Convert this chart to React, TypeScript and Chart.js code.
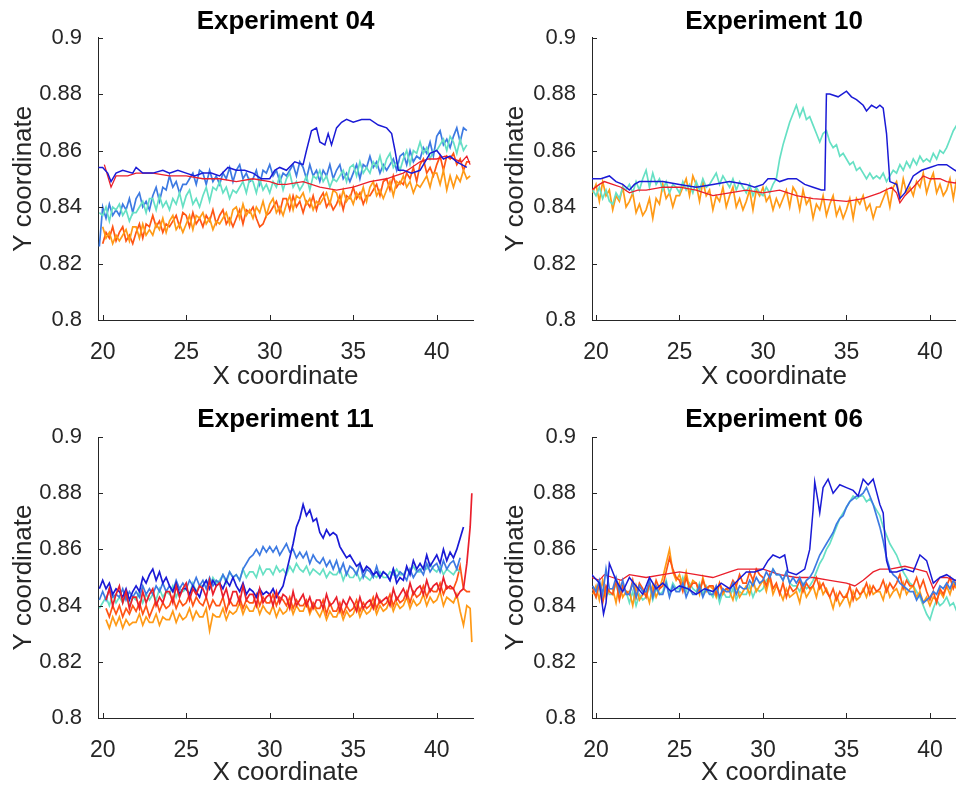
import React, { useEffect, useRef } from 'react';
import { Chart, registerables } from 'chart.js';
Chart.register(...registerables);

// ---------- axes ----------
const X_TICKS = [20, 25, 30, 35, 40];
const X_TICK_LABELS = ['20', '25', '30', '35', '40'];
const Y_TICKS = [0.8, 0.82, 0.84, 0.86, 0.88, 0.9];
const Y_TICK_LABELS = ['0.8', '0.82', '0.84', '0.86', '0.88', '0.9'];
const TITLES = ['Experiment 04', 'Experiment 10', 'Experiment 11', 'Experiment 06'];

// shared sampling positions for the noisy traces (19.8, 20.0 ... 41.8, 42.0, 42.1)
const X_GRID = [19.8,
  20, 20.2, 20.4, 20.6, 20.8, 21, 21.2, 21.4, 21.6, 21.8,
  22, 22.2, 22.4, 22.6, 22.8, 23, 23.2, 23.4, 23.6, 23.8,
  24, 24.2, 24.4, 24.6, 24.8, 25, 25.2, 25.4, 25.6, 25.8,
  26, 26.2, 26.4, 26.6, 26.8, 27, 27.2, 27.4, 27.6, 27.8,
  28, 28.2, 28.4, 28.6, 28.8, 29, 29.2, 29.4, 29.6, 29.8,
  30, 30.2, 30.4, 30.6, 30.8, 31, 31.2, 31.4, 31.6, 31.8,
  32, 32.2, 32.4, 32.6, 32.8, 33, 33.2, 33.4, 33.6, 33.8,
  34, 34.2, 34.4, 34.6, 34.8, 35, 35.2, 35.4, 35.6, 35.8,
  36, 36.2, 36.4, 36.6, 36.8, 37, 37.2, 37.4, 37.6, 37.8,
  38, 38.2, 38.4, 38.6, 38.8, 39, 39.2, 39.4, 39.6, 39.8,
  40, 40.2, 40.4, 40.6, 40.8, 41, 41.2, 41.4, 41.6, 41.8,
  42, 42.1];

// ---------- Experiment 04 ----------
const E04_DBLUE_X = [19.75, 20.0, 20.3, 20.5, 20.8, 21.2, 21.8, 22.0, 22.4, 23.0, 23.6, 24.0, 24.5, 25.0, 25.5, 26.0, 26.5, 27.0, 27.5, 28.0, 28.5, 29.0, 29.5, 30.0, 30.3, 30.6, 31.0, 31.5, 32.0, 32.2, 32.5, 32.8, 33.0, 33.3, 33.5, 33.7, 34.0, 34.3, 34.6, 35.0, 35.5, 36.0, 36.5, 37.0, 37.3, 37.5, 37.7, 38.0, 38.5, 39.0, 39.3, 39.6, 40.0, 40.4, 40.8, 41.2, 41.5, 41.8];
const E04_DBLUE_Y = [.854, .854, .852, .849, .852, .853, .852, .854, .852, .852, .853, .852, .853, .852, .851, .852, .852, .851, .854, .853, .853, .852, .850, .850, .853, .854, .853, .856, .855, .860, .867, .868, .863, .862, .866, .862, .868, .870, .871, .870, .871, .871, .869, .868, .866, .860, .853, .853, .852, .853, .856, .859, .860, .857, .858, .856, .855, .854];
const E04_RED_X = [20.1, 20.3, 20.5, 20.8, 21.5, 22.0, 23.0, 24.0, 25.0, 26.0, 27.0, 28.0, 29.0, 30.0, 30.5, 31.0, 32.0, 33.0, 34.0, 35.0, 35.5, 36.0, 37.0, 37.5, 38.0, 38.5, 39.0, 39.5, 40.0, 40.5, 41.0, 41.5, 41.8, 42.0];
const E04_RED_Y = [.855, .851, .847, .851, .851, .852, .852, .851, .851, .850, .850, .849, .850, .849, .848, .848, .849, .847, .846, .847, .848, .849, .850, .851, .852, .854, .856, .857, .857, .858, .857, .856, .858, .855];
const E04_MBLUE = [.826,
  .840, .836, .841, .837, .839, .837, .841, .839, .843, .838,
  .843, .845, .840, .842, .839, .844, .847, .842, .847, .846,
  .851, .847, .849, .845, .848, .848, .850, .852, .848, .853,
  .852, .848, .853, .849, .851, .848, .852, .850, .854, .849,
  .853, .855, .850, .852, .849, .850, .853, .848, .853, .852,
  .855, .851, .853, .849, .852, .851, .853, .855, .851, .856,
  .854, .850, .855, .851, .853, .849, .853, .851, .855, .850,
  .853, .855, .850, .852, .849, .852, .855, .850, .855, .854,
  .858, .854, .856, .852, .855, .853, .855, .857, .853, .858,
  .859, .855, .860, .856, .858, .857, .861, .859, .863, .858,
  .865, .867, .862, .864, .861, .865, .868, .863, .868, .867,
  null, null];
const E04_TURQ = [.838,
  .837, .840, .835, .840, .839, .841, .837, .839, .835, .838,
  .838, .840, .842, .838, .843, .843, .839, .844, .840, .842,
  .839, .843, .841, .845, .840, .844, .846, .841, .843, .840,
  .844, .847, .842, .847, .846, .849, .845, .847, .843, .846,
  .845, .847, .849, .845, .850, .849, .845, .850, .846, .848,
  .845, .849, .847, .851, .846, .850, .852, .847, .849, .846,
  .848, .851, .846, .851, .850, .853, .849, .851, .847, .850,
  .849, .851, .853, .849, .854, .855, .851, .856, .852, .854,
  .852, .856, .854, .858, .853, .857, .859, .854, .856, .853,
  .857, .860, .855, .860, .859, .863, .859, .861, .857, .860,
  .860, .862, .864, .860, .865, .863, .859, .864, .860, .862,
  null, null];
const E04_ORED = [null,
  .827, .831, .829, .833, .828, .831, .833, .828, .830, .827,
  .831, .834, .829, .834, .833, .837, .833, .835, .831, .834,
  .833, .835, .837, .833, .838, .837, .833, .838, .834, .836,
  .833, .837, .835, .839, .834, .837, .839, .834, .836, .833,
  .836, .839, .834, .839, .838, .840, .836, .833, .834, .837,
  .838, .840, .842, .838, .843, .843, .839, .844, .840, .842,
  .838, .842, .840, .844, .839, .843, .845, .840, .842, .839,
  .841, .844, .839, .844, .843, .847, .843, .845, .841, .844,
  .844, .846, .848, .844, .849, .850, .846, .851, .847, .849,
  .848, .852, .850, .854, .849, .855, .857, .852, .854, .851,
  .855, .858, .853, .858, .857, .859, .855, .857, .853, .856,
  .856, null];
const E04_ORANGE = [null,
  .833, .829, .831, .827, .830, .828, .830, .832, .828, .833,
  .833, .829, .834, .830, .832, .830, .834, .832, .836, .831,
  .835, .837, .832, .834, .831, .834, .837, .832, .837, .836,
  .838, .834, .836, .832, .835, .834, .836, .838, .834, .839,
  .840, .836, .841, .837, .839, .836, .840, .838, .842, .837,
  .841, .843, .838, .840, .837, .841, .844, .839, .844, .843,
  .845, .841, .843, .839, .842, .841, .843, .845, .841, .846,
  .845, .841, .846, .842, .844, .841, .845, .843, .847, .842,
  .847, .849, .844, .846, .843, .846, .849, .844, .849, .848,
  .851, .847, .849, .845, .848, .847, .849, .851, .847, .852,
  .852, .848, .853, .846, .851, .847, .851, .849, .853, .850,
  .851, null];

// ---------- Experiment 10 ----------
const E10_DBLUE_X = [19.75, 20.3, 20.8, 21.2, 21.6, 22.0, 22.3, 22.6, 23.0, 24.0, 25.0, 26.0, 27.0, 28.0, 29.0, 29.5, 30.0, 30.3, 30.7, 31.0, 31.5, 32.0, 32.5, 33.0, 33.5, 33.7, 33.8, 34.0, 34.5, 35.0, 35.3, 35.6, 36.0, 36.2, 36.5, 36.8, 37.0, 37.2, 37.4, 37.6, 38.0, 38.2, 38.5, 39.0, 39.5, 40.0, 40.5, 41.0, 41.5, 41.8];
const E10_DBLUE_Y = [.850, .850, .851, .849, .848, .846, .848, .849, .849, .849, .848, .847, .848, .849, .848, .847, .848, .850, .850, .849, .850, .850, .848, .847, .846, .846, .880, .880, .879, .881, .879, .878, .876, .874, .876, .875, .876, .875, .866, .849, .848, .843, .845, .851, .853, .854, .855, .855, .853, .852];
const E10_RED_X = [19.75, 20.2, 20.5, 21.0, 21.5, 22.0, 22.5, 23.0, 24.0, 25.0, 26.0, 27.0, 28.0, 29.0, 30.0, 31.0, 32.0, 33.0, 34.0, 35.0, 36.0, 37.0, 37.7, 38.0, 38.2, 38.5, 39.0, 39.6, 40.0, 40.6, 41.0, 41.5, 41.8];
const E10_RED_Y = [.846, .848, .849, .848, .847, .845, .846, .846, .847, .847, .846, .844, .845, .846, .845, .846, .844, .843, .8425, .842, .843, .845, .847, .845, .8415, .844, .847, .851, .850, .850, .849, .8485, .849];
const E10_TURQ = [.846,
  .844, .847, .843, .846, .842, .841, .845, .843, .847, .846,
  .848, .845, .849, .846, .850, .853, .847, .852, .848, .850,
  .846, .849, .845, .848, .847, .845, .849, .846, .848, .845,
  .849, .846, .850, .847, .848, .850, .852, .848, .851, .849,
  .847, .850, .846, .849, .847, .845, .848, .844, .847, .845,
  .844, .847, .845, .848, .850, .857, .862, .866, .870, .873,
  .876, .872, .875, .871, .872, .869, .866, .863, .866, .867,
  .863, .861, .862, .858, .859, .857, .855, .856, .853, .854,
  .852, .850, .852, .850, .851, .850, .852, .849, .851, .853,
  .852, .855, .853, .856, .854, .857, .855, .858, .856, .857,
  .856, .859, .857, .860, .859, .861, .864, .867, .869, .870,
  .870, null];
const E10_ORANGE = [.845,
  .848, .842, .849, .844, .846, .839, .844, .842, .847, .840,
  .842, .845, .838, .841, .837, .839, .843, .836, .843, .841,
  .848, .843, .845, .840, .844, .844, .847, .850, .844, .851,
  .848, .842, .849, .844, .846, .839, .844, .842, .847, .840,
  .844, .847, .840, .843, .839, .842, .846, .839, .846, .844,
  .847, .842, .844, .839, .843, .840, .843, .846, .840, .847,
  .845, .839, .846, .841, .843, .836, .841, .839, .844, .837,
  .841, .844, .837, .840, .836, .839, .843, .836, .843, .841,
  .844, .839, .841, .836, .840, .840, .843, .846, .840, .847,
  .849, .843, .850, .845, .847, .844, .849, .847, .852, .845,
  .849, .852, .845, .848, .844, .846, .850, .843, .850, .848,
  .847, null];

// ---------- Experiment 11 ----------
const E11_DBLUE = [.846,
  .849, .846, .848, .844, .846, .845, .843, .846, .842, .845,
  .847, .845, .850, .848, .851, .853, .849, .852, .848, .850,
  .847, .845, .848, .844, .846, .846, .844, .847, .845, .843,
  .847, .849, .846, .849, .847, .848, .846, .849, .847, .850,
  .847, .845, .848, .844, .846, .845, .843, .846, .844, .845,
  .844, .846, .843, .845, .847, .852, .857, .862, .868, .871,
  .876, .872, .874, .870, .871, .866, .864, .867, .865, .866,
  .865, .861, .859, .857, .858, .856, .854, .855, .852, .854,
  .853, .851, .852, .850, .852, .851, .849, .853, .848, .850,
  .849, .854, .851, .856, .853, .855, .853, .858, .854, .856,
  .858, .855, .860, .856, .859, .857, .860, .864, .868, null,
  null, null];
const E11_MBLUE = [.842,
  .845, .842, .846, .843, .844, .843, .846, .842, .845, .843,
  .845, .843, .847, .844, .846, .844, .847, .845, .848, .845,
  .847, .845, .849, .846, .848, .846, .849, .847, .850, .847,
  .849, .846, .850, .847, .849, .848, .851, .849, .852, .850,
  .851, .849, .853, .855, .857, .858, .860, .858, .861, .859,
  .861, .859, .861, .858, .860, .862, .859, .860, .857, .859,
  .857, .859, .855, .858, .856, .855, .857, .854, .856, .853,
  .856, .852, .855, .851, .854, .853, .851, .855, .850, .853,
  .852, .850, .854, .850, .852, .851, .849, .853, .850, .852,
  .851, .849, .853, .850, .852, .853, .851, .855, .852, .854,
  .855, .852, .856, .853, .855, .856, .853, .857, null, null,
  null, null];
const E11_TURQ = [.839,
  .841, .843, .840, .844, .841, .843, .841, .844, .840, .843,
  .842, .845, .841, .844, .842, .844, .842, .846, .843, .845,
  .844, .847, .843, .846, .845, .846, .844, .848, .845, .847,
  .847, .849, .846, .850, .848, .849, .851, .848, .852, .850,
  .851, .849, .853, .850, .852, .852, .850, .854, .851, .853,
  .853, .851, .854, .852, .853, .851, .854, .852, .855, .853,
  .852, .854, .851, .853, .852, .851, .853, .850, .852, .851,
  .851, .853, .849, .852, .850, .850, .852, .849, .851, .850,
  .849, .851, .850, .852, .850, .850, .852, .851, .853, .851,
  .851, .853, .852, .854, .852, .852, .854, .853, .855, .853,
  .852, .854, .851, .853, .852, .851, .853, .852, null, null,
  null, null];
const E11_RED = [null,
  null, .842, .846, .840, .844, .847, .841, .845, .839, .843,
  .843, .839, .845, .841, .844, .846, .840, .843, .841, .845,
  .845, .841, .847, .843, .846, .848, .842, .846, .844, .847,
  .846, .843, .849, .844, .847, .848, .843, .846, .841, .845,
  .845, .841, .847, .842, .844, .844, .840, .846, .841, .843,
  .844, .840, .845, .841, .844, .843, .839, .845, .840, .842,
  .844, .840, .843, .839, .842, .842, .839, .844, .840, .841,
  .843, .838, .842, .840, .843, .841, .838, .843, .839, .841,
  .842, .839, .844, .841, .842, .843, .840, .846, .842, .844,
  .846, .843, .848, .844, .846, .847, .844, .849, .845, .847,
  .848, .845, .850, .846, .847, .846, .843, .845, .846, .855,
  .868, .880];
const E11_ORED = [null,
  null, .839, .836, .840, .837, .840, .836, .839, .837, .840,
  .838, .841, .837, .840, .836, .839, .842, .838, .841, .839,
  .840, .843, .839, .842, .840, .841, .844, .840, .843, .841,
  .840, .843, .839, .842, .840, .840, .843, .838, .842, .840,
  .840, .843, .839, .842, .841, .841, .844, .840, .843, .841,
  .841, .844, .840, .843, .842, .840, .843, .839, .842, .840,
  .840, .842, .838, .841, .839, .839, .842, .837, .841, .838,
  .838, .841, .837, .840, .838, .839, .842, .838, .841, .839,
  .840, .843, .839, .842, .840, .841, .844, .840, .843, .841,
  .842, .845, .841, .845, .843, .844, .847, .843, .846, .845,
  .845, .848, .844, .847, .846, .846, .849, .854, .846, .845,
  .845, null];
const E11_ORANGE = [null,
  null, .835, .832, .836, .833, .836, .832, .835, .833, .834,
  .834, .837, .833, .836, .834, .834, .837, .833, .836, .835,
  .835, .838, .834, .837, .835, .836, .839, .835, .838, .836,
  .836, .839, .831, .837, .836, .836, .839, .835, .838, .837,
  .838, .841, .837, .840, .838, .838, .841, .837, .840, .838,
  .837, .840, .836, .839, .837, .838, .841, .837, .840, .838,
  .838, .841, .837, .840, .838, .836, .839, .835, .838, .836,
  .836, .839, .835, .838, .836, .837, .840, .836, .839, .837,
  .838, .841, .837, .840, .838, .839, .842, .838, .841, .839,
  .840, .843, .839, .842, .840, .841, .844, .840, .843, .841,
  .842, .845, .840, .843, .842, .841, .844, .838, .833, .840,
  .839, .827];

// ---------- Experiment 06 ----------
const E06_DBLUE_X = [19.75, 20.2, 20.45, 20.6, 20.8, 21.2, 21.6, 22.0, 22.4, 22.8, 23.2, 23.6, 24.0, 24.5, 25.0, 25.5, 26.0, 26.5, 27.0, 27.5, 28.0, 28.5, 29.0, 29.5, 30.0, 30.3, 30.6, 31.0, 31.3, 31.5, 32.0, 32.5, 32.8, 33.0, 33.1, 33.3, 33.4, 33.6, 33.9, 34.2, 34.6, 35.0, 35.4, 35.7, 36.0, 36.3, 36.6, 37.0, 37.2, 37.4, 37.6, 38.0, 38.5, 39.0, 39.4, 39.8, 40.2, 40.6, 41.0, 41.5, 41.8];
const E06_DBLUE_Y = [.851, .848, .837, .841, .855, .849, .845, .850, .847, .844, .850, .846, .848, .845, .847, .846, .844, .846, .845, .848, .846, .849, .852, .852, .853, .856, .858, .857, .858, .852, .851, .853, .860, .874, .884, .877, .873, .882, .885, .880, .883, .882, .881, .879, .885, .883, .885, .876, .873, .856, .852, .852, .853, .852, .858, .856, .848, .850, .851, .849, .849];
const E06_RED_X = [19.75, 20.2, 20.5, 21.0, 21.5, 22.0, 23.0, 24.0, 25.0, 26.0, 27.0, 28.0, 28.5, 29.0, 30.0, 30.5, 31.0, 32.0, 33.0, 34.0, 35.0, 35.5, 36.0, 36.6, 37.0, 37.6, 38.5, 39.2, 39.8, 40.2, 40.6, 41.0, 41.5, 41.8];
const E06_RED_Y = [.850, .849, .851, .850, .849, .851, .850, .851, .852, .851, .850, .852, .853, .853, .853, .852, .851, .850, .850, .849, .848, .847, .849, .852, .853, .853, .854, .853, .852, .846, .850, .850, .849, .849];
const E06_MBLUE = [.847,
  .845, .849, .844, .853, .846, .846, .850, .845, .849, .844,
  .844, .848, .843, .847, .845, .845, .849, .843, .847, .844,
  .844, .848, .843, .847, .845, .845, .848, .843, .846, .844,
  .844, .847, .843, .846, .844, .844, .847, .843, .846, .845,
  .845, .848, .844, .847, .846, .846, .849, .847, .850, .848,
  .849, .852, .850, .853, .851, .851, .849, .852, .848, .850,
  .848, .850, .847, .849, .850, .852, .855, .858, .860, .862,
  .864, .866, .869, .871, .872, .875, .877, .878, .879, .879,
  .880, .882, .879, .876, .872, .868, .863, .857, .853, .851,
  .850, .848, .847, .846, .845, .845, .842, .844, .841, .842,
  .843, .845, .844, .847, .846, .848, .846, .849, .847, null,
  null, null];
const E06_TURQ = [.846,
  .843, .847, .842, .846, .844, .844, .848, .843, .847, .845,
  .841, .845, .840, .844, .842, .843, .847, .842, .846, .844,
  .845, .849, .844, .848, .846, .846, .850, .845, .848, .846,
  .845, .848, .844, .847, .845, .843, .846, .841, .845, .843,
  .843, .846, .842, .845, .844, .844, .847, .843, .846, .845,
  .846, .849, .850, .853, .851, .851, .849, .852, .848, .847,
  .847, .845, .848, .846, .847, .849, .852, .855, .857, .860,
  .862, .865, .868, .871, .873, .875, .877, .879, .878, .879,
  .879, .877, .878, .876, .874, .872, .868, .865, .862, .860,
  .858, .855, .852, .850, .848, .847, .845, .843, .840, .837,
  .835, .839, .842, .840, .841, .843, .840, .841, .838, null,
  null, null];
const E06_ORED = [.846,
  .843, .848, .841, .847, .845, .844, .849, .842, .847, .845,
  .844, .849, .843, .848, .846, .843, .848, .844, .849, .846,
  .847, .852, .857, .853, .850, .849, .845, .850, .846, .848,
  .848, .845, .849, .846, .847, .847, .844, .848, .845, .846,
  .846, .849, .847, .851, .848, .848, .852, .849, .853, .851,
  .850, .847, .851, .846, .848, .844, .848, .843, .847, .845,
  .846, .849, .845, .848, .846, .847, .850, .846, .848, .845,
  .843, .846, .842, .845, .843, .843, .847, .842, .846, .844,
  .845, .848, .844, .847, .845, .846, .849, .845, .848, .846,
  .848, .851, .846, .849, .847, .847, .850, .846, .849, .845,
  .842, .845, .841, .846, .844, .847, .850, .846, .849, null,
  null, null];
const E06_ORANGE = [.844,
  .847, .842, .849, .843, .846, .846, .841, .848, .843, .845,
  .845, .840, .847, .842, .844, .845, .841, .847, .843, .846,
  .850, .855, .860, .852, .849, .851, .847, .852, .846, .849,
  .848, .844, .850, .845, .847, .846, .843, .848, .844, .846,
  .845, .842, .847, .843, .845, .847, .844, .849, .845, .847,
  .849, .845, .850, .844, .847, .845, .842, .846, .843, .844,
  .845, .841, .847, .843, .845, .847, .843, .848, .844, .846,
  .843, .839, .844, .840, .842, .844, .840, .845, .842, .843,
  .846, .843, .847, .844, .845, .845, .842, .847, .843, .845,
  .846, .843, .848, .844, .846, .847, .843, .845, .841, .843,
  .840, .843, .842, .845, .843, .847, .844, .848, .846, null,
  null, null];

// ---------- styling ----------
const C_DBLUE = '#1a1ad6';
const C_MBLUE = '#3d7ae2';
const C_TURQ = '#66e0c4';
const C_RED = '#ea1f2b';
const C_ORED = '#ff5514';
const C_ORANGE = '#ff9a16';
const AXIS_COLOR = '#262626';
const FONT = '"Liberation Sans", Arial, Helvetica, sans-serif';
const NOISY_W = 1.7;

const gridPts = (ys: (number | null)[]) =>
  X_GRID.map((x, i) => ({ x, y: ys[i] })).filter((p) => p.y !== null && p.y !== undefined);
const pairPts = (xs: number[], ys: number[]) => xs.map((x, i) => ({ x, y: ys[i] }));

const ds = (data: any[], color: string, width = NOISY_W) => ({
  data,
  borderColor: color,
  borderWidth: width,
  pointRadius: 0,
  tension: 0,
  fill: false,
});

const PANELS = [
  {
    title: TITLES[0], left: 0, top: 0, w: 478, h: 395,
    xMin: 19.72, xMax: 42.17, yAxisW: 98, xAxisH: 75, padRight: 5,
    titlePad: { top: 6, bottom: 0.3 }, yTitlePad: 8, xTitlePadBottom: 2.4,
    datasets: () => [
      ds(pairPts(E04_DBLUE_X, E04_DBLUE_Y), C_DBLUE, 1.5),
      ds(pairPts(E04_RED_X, E04_RED_Y), C_RED, 1.3),
      ds(gridPts(E04_ORANGE), C_ORANGE),
      ds(gridPts(E04_ORED), C_ORED),
      ds(gridPts(E04_TURQ), C_TURQ),
      ds(gridPts(E04_MBLUE), C_MBLUE),
    ],
  },
  {
    title: TITLES[1], left: 478, top: 0, w: 478, h: 395,
    xMin: 19.76, xMax: 41.56, yAxisW: 114, xAxisH: 75, padRight: 0,
    titlePad: { top: 6, bottom: 0.3 }, yTitlePad: 22, xTitlePadBottom: 2.4,
    datasets: () => [
      ds(pairPts(E10_DBLUE_X, E10_DBLUE_Y), C_DBLUE, 1.5),
      ds(pairPts(E10_RED_X, E10_RED_Y), C_RED, 1.3),
      ds(gridPts(E10_TURQ), C_TURQ),
      ds(gridPts(E10_ORANGE), C_ORANGE),
    ],
  },
  {
    title: TITLES[2], left: 0, top: 395, w: 478, h: 394,
    xMin: 19.72, xMax: 42.17, yAxisW: 98, xAxisH: 71, padRight: 5,
    titlePad: { top: 9, bottom: 1.8 }, yTitlePad: 8, xTitlePadBottom: 0.5,
    datasets: () => [
      ds(gridPts(E11_RED), C_RED),
      ds(gridPts(E11_DBLUE), C_DBLUE),
      ds(gridPts(E11_MBLUE), C_MBLUE),
      ds(gridPts(E11_TURQ), C_TURQ),
      ds(gridPts(E11_ORED), C_ORED),
      ds(gridPts(E11_ORANGE), C_ORANGE),
    ],
  },
  {
    title: TITLES[3], left: 478, top: 395, w: 478, h: 394,
    xMin: 19.76, xMax: 41.56, yAxisW: 114, xAxisH: 71, padRight: 0,
    titlePad: { top: 9, bottom: 1.8 }, yTitlePad: 22, xTitlePadBottom: 0.5,
    datasets: () => [
      ds(pairPts(E06_DBLUE_X, E06_DBLUE_Y), C_DBLUE, 1.5),
      ds(gridPts(E06_MBLUE), C_MBLUE),
      ds(pairPts(E06_RED_X, E06_RED_Y), C_RED, 1.3),
      ds(gridPts(E06_ORED), C_ORED),
      ds(gridPts(E06_ORANGE), C_ORANGE),
      ds(gridPts(E06_TURQ), C_TURQ),
    ],
  },
];

const inwardTicks = {
  id: 'inwardTicks',
  afterDraw(chart: any) {
    const { ctx, chartArea, scales } = chart;
    ctx.save();
    ctx.strokeStyle = AXIS_COLOR;
    ctx.lineWidth = 1;
    ctx.beginPath();
    X_TICKS.forEach((v) => {
      const px = Math.round(scales.x.getPixelForValue(v)) + 0.5;
      ctx.moveTo(px, chartArea.bottom);
      ctx.lineTo(px, chartArea.bottom - 5);
    });
    Y_TICKS.forEach((v) => {
      const py = Math.round(scales.y.getPixelForValue(v)) + 0.5;
      ctx.moveTo(chartArea.left, py);
      ctx.lineTo(chartArea.left + 5, py);
    });
    ctx.stroke();
    ctx.restore();
  },
};

function Panel({ cfg }: { cfg: any }) {
  const ref = useRef<HTMLCanvasElement>(null);
  useEffect(() => {
    const chart = new Chart(ref.current as HTMLCanvasElement, {
      type: 'line',
      data: { datasets: cfg.datasets() },
      options: {
        animation: false,
        responsive: false,
        devicePixelRatio: 1,
        events: [],
        layout: { padding: { left: 0, right: cfg.padRight, top: 0, bottom: 0 } },
        plugins: {
          legend: { display: false },
          tooltip: { enabled: false },
          title: {
            display: true,
            text: cfg.title,
            color: '#000000',
            fullSize: false,
            font: { family: FONT, size: 26, weight: 'bold', lineHeight: 1.2 },
            padding: cfg.titlePad,
          },
        },
        scales: {
          x: {
            type: 'linear',
            min: cfg.xMin,
            max: cfg.xMax,
            afterBuildTicks: (s: any) => { s.ticks = X_TICKS.map((v) => ({ value: v })); },
            afterFit: (s: any) => { s.height = cfg.xAxisH; },
            grid: { display: false },
            border: { display: true, color: AXIS_COLOR, width: 1 },
            ticks: {
              color: AXIS_COLOR,
              font: { family: FONT, size: 23, lineHeight: 1.2 },
              padding: 10.5,
              maxRotation: 0,
              autoSkip: false,
              callback: (_v: any, i: number) => X_TICK_LABELS[i],
            },
            title: {
              display: true,
              text: 'X coordinate',
              color: AXIS_COLOR,
              font: { family: FONT, size: 26, lineHeight: 1.2 },
              padding: { top: 0, bottom: cfg.xTitlePadBottom },
            },
          },
          y: {
            type: 'linear',
            min: 0.8,
            max: 0.9,
            afterBuildTicks: (s: any) => { s.ticks = Y_TICKS.map((v) => ({ value: v })); },
            afterFit: (s: any) => { s.width = cfg.yAxisW; },
            grid: { display: false },
            border: { display: true, color: AXIS_COLOR, width: 1 },
            ticks: {
              color: AXIS_COLOR,
              font: { family: FONT, size: 22, lineHeight: 1.2 },
              padding: 8,
              autoSkip: false,
              callback: (_v: any, i: number) => Y_TICK_LABELS[i],
            },
            title: {
              display: true,
              text: 'Y coordinate',
              color: AXIS_COLOR,
              font: { family: FONT, size: 26, lineHeight: 1.2 },
              padding: { top: cfg.yTitlePad, bottom: 0 },
            },
          },
        },
      } as any,
      plugins: [inwardTicks],
    });
    return () => chart.destroy();
  }, []);
  return (
    <canvas
      ref={ref}
      width={cfg.w}
      height={cfg.h}
      style={{ position: 'absolute', left: cfg.left, top: cfg.top, width: cfg.w, height: cfg.h }}
    />
  );
}

export default function App() {
  return (
    <div style={{ position: 'fixed', left: 0, top: 0, width: 956, height: 789, background: '#ffffff', overflow: 'hidden' }}>
      {PANELS.map((p, i) => (
        <Panel key={i} cfg={p} />
      ))}
    </div>
  );
}
